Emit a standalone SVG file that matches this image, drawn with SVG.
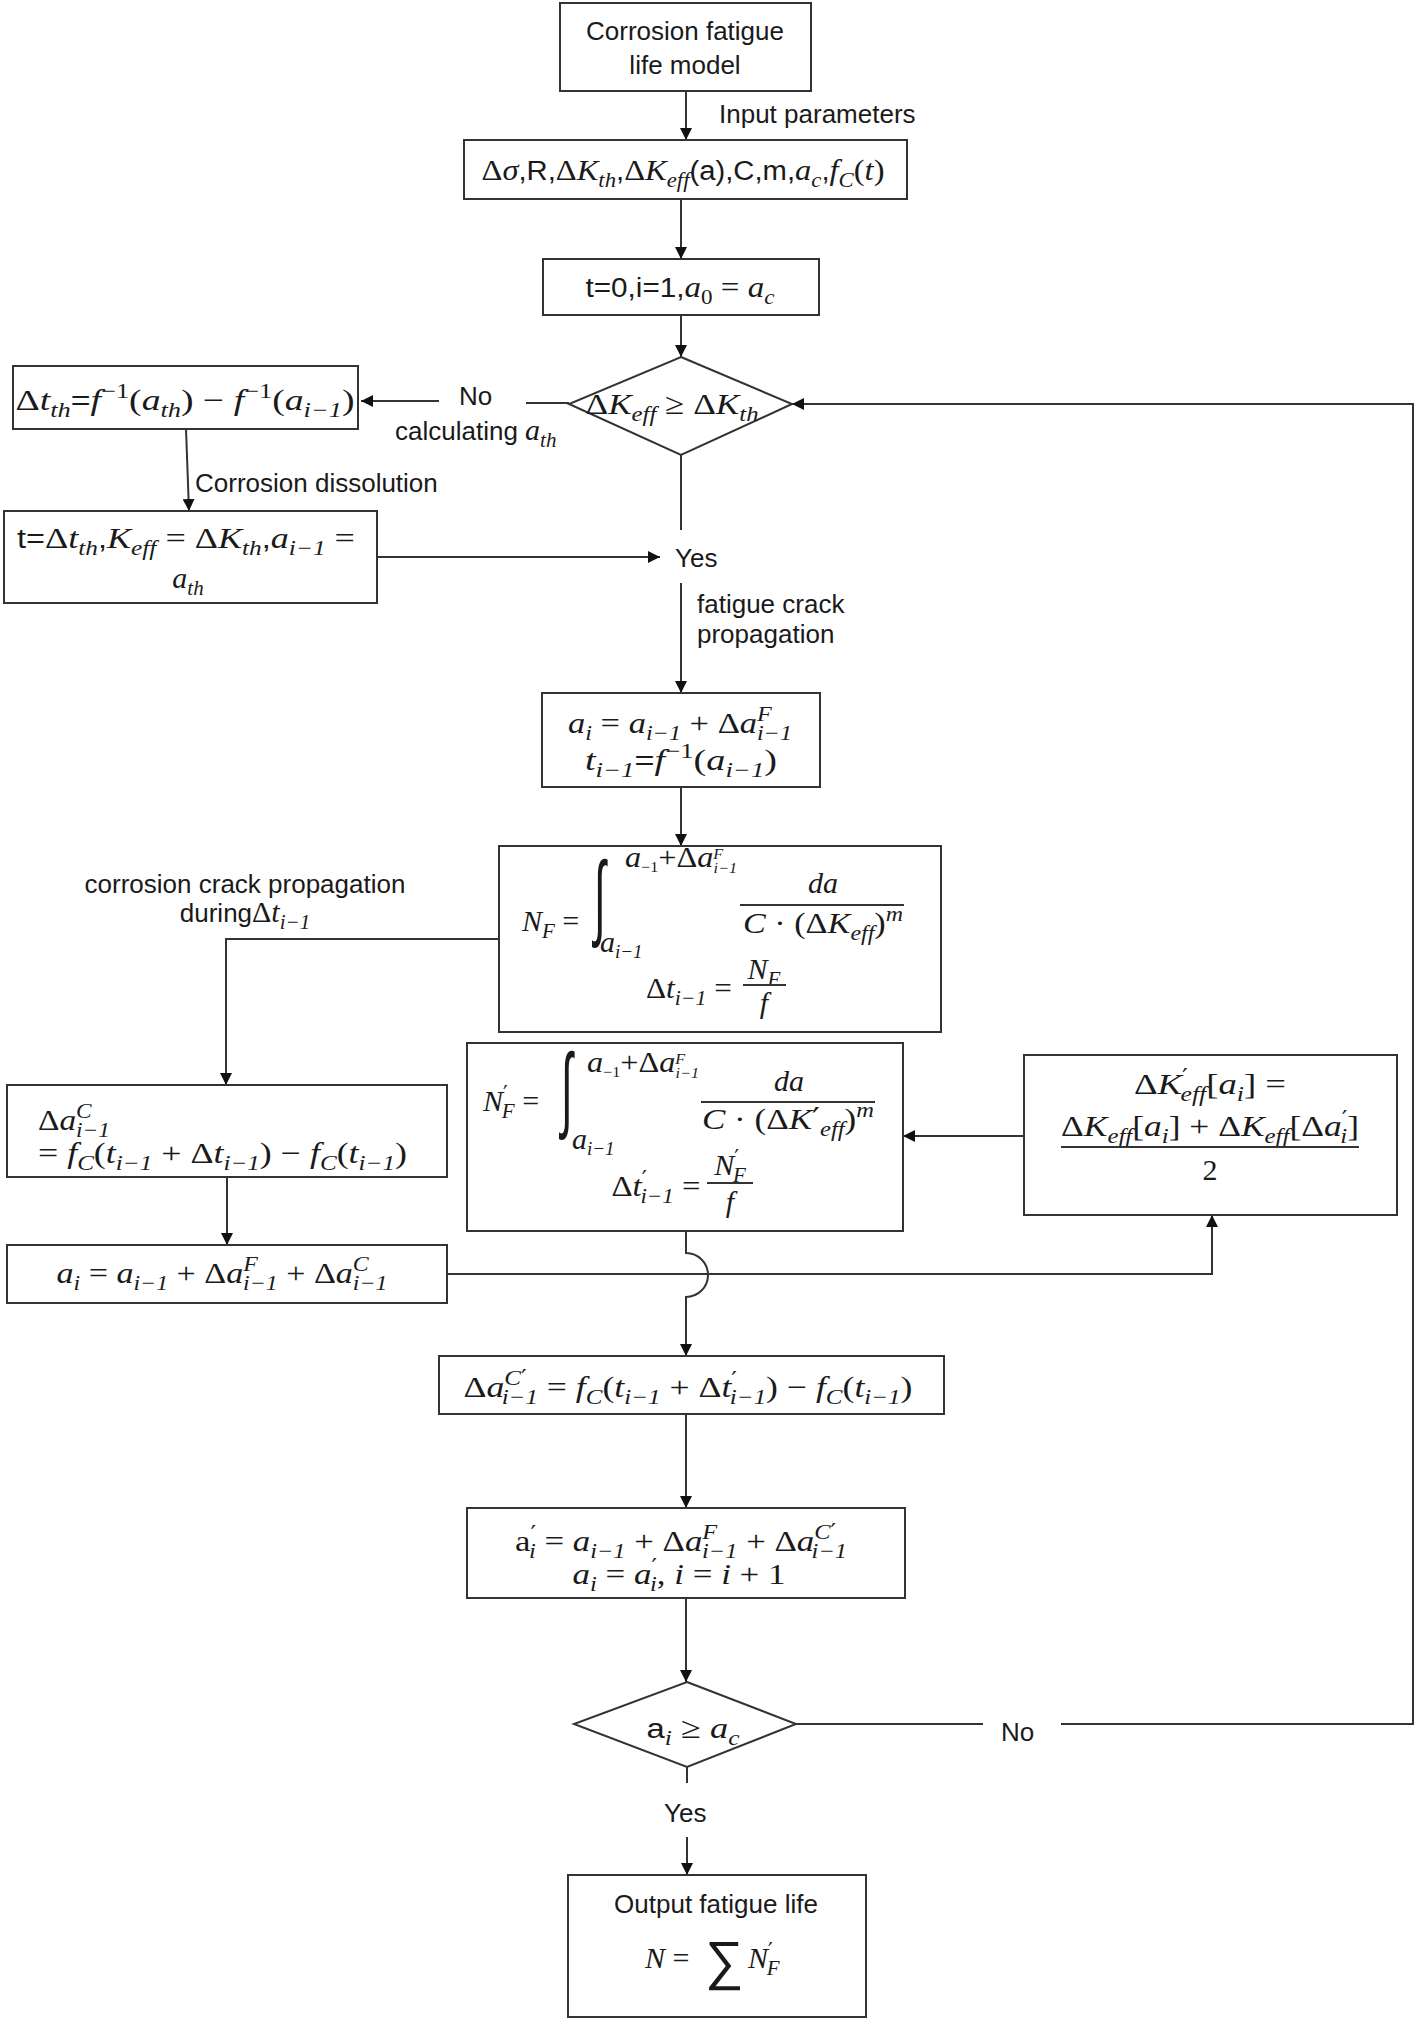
<svg xmlns="http://www.w3.org/2000/svg" width="1416" height="2021" viewBox="0 0 1416 2021">
<style>
.bx{fill:#fff;stroke:#333;stroke-width:2}
.ln{fill:none;stroke:#333;stroke-width:2}
.ar{fill:none;stroke:#333;stroke-width:2;marker-end:url(#ah)}
.s{font-family:"Liberation Sans",Arial,sans-serif;font-size:26px;fill:#1a1a1a}
.m{font-family:"Liberation Serif","Times New Roman",serif;font-size:30px;fill:#1a1a1a}
.i{font-style:italic}
.b{font-size:21px}
.ss{font-family:"Liberation Sans",Arial,sans-serif;font-size:27px}
.p{font-family:"DejaVu Sans",sans-serif;font-style:normal}
.big{font-family:"DejaVu Sans",sans-serif;font-weight:200;fill:#1a1a1a}
</style>
<defs>
<marker id="ah" viewBox="0 0 12 12" refX="12" refY="6" markerWidth="12" markerHeight="12" markerUnits="userSpaceOnUse" orient="auto"><path d="M0,0 L12,6 L0,12 z" fill="#111"/></marker>
</defs>
<rect width="1416" height="2021" fill="#fff"/>

<g id="connectors">
<line class="ar" x1="686" y1="91" x2="686" y2="140"/>
<line class="ar" x1="681" y1="199" x2="681" y2="259"/>
<line class="ar" x1="681" y1="315" x2="681" y2="357"/>
<line class="ln" x1="569" y1="403" x2="526" y2="403"/>
<line class="ar" x1="439" y1="401" x2="361" y2="401"/>
<line class="ar" x1="186" y1="429" x2="189" y2="511"/>
<line class="ar" x1="377" y1="557" x2="660" y2="557"/>
<line class="ln" x1="681" y1="455" x2="681" y2="530"/>
<line class="ar" x1="681" y1="583" x2="681" y2="693"/>
<line class="ar" x1="681" y1="787" x2="681" y2="846"/>
<polyline class="ar" points="499,939 226,939 226,1085"/>
<line class="ar" x1="227" y1="1177" x2="227" y2="1245"/>
<polyline class="ar" points="447,1274 1212,1274 1212,1215"/>
<line class="ar" x1="1024" y1="1136" x2="903" y2="1136"/>
<path class="ar" d="M686,1231 V1253 A22,22 0 0 1 686,1297 V1356"/>
<line class="ar" x1="686" y1="1414" x2="686" y2="1508"/>
<line class="ar" x1="686" y1="1598" x2="686" y2="1682"/>
<line class="ln" x1="796" y1="1724" x2="983" y2="1724"/>
<polyline class="ar" points="1061,1724 1413,1724 1413,404 792,404"/>
<line class="ln" x1="687" y1="1767" x2="687" y2="1783"/>
<line class="ar" x1="687" y1="1837" x2="687" y2="1875"/>
<text class="s" x="719" y="123">Input parameters</text>
<text class="s" x="459" y="405">No</text>
<text class="s" x="395" y="440">calculating <tspan class="m i">a</tspan><tspan class="m i b" dy="7">th</tspan></text>
<text class="s" x="195" y="492">Corrosion dissolution</text>
<text class="s" x="675" y="567">Yes</text>
<text class="s" x="697" y="613">fatigue crack</text>
<text class="s" x="697" y="643">propagation</text>
<text class="s" x="245" y="893" text-anchor="middle">corrosion crack propagation</text>
<text class="s" x="245" y="922" text-anchor="middle">during<tspan class="m">Δ</tspan><tspan class="m i">t</tspan><tspan class="m i b" dy="7">i−1</tspan></text>
<text class="s" x="1001" y="1741">No</text>
<text class="s" x="664" y="1822">Yes</text>
</g>

<g id="n1">
<rect class="bx" x="560" y="3" width="251" height="88"/>
<text class="s" x="685" y="40" text-anchor="middle">Corrosion fatigue</text>
<text class="s" x="685" y="74" text-anchor="middle">life model</text>
</g>

<g id="n2">
<rect class="bx" x="464" y="140" width="443" height="59"/>
<text class="m" x="683" y="180" text-anchor="middle" textLength="403" lengthAdjust="spacingAndGlyphs">Δ<tspan class="i">σ</tspan><tspan class="ss">,R,</tspan>Δ<tspan class="i">K</tspan><tspan class="i b" dy="7">th</tspan><tspan class="ss" dy="-7">,</tspan>Δ<tspan class="i">K</tspan><tspan class="i b" dy="7">eff</tspan><tspan class="ss" dy="-7">(a),C,m,</tspan><tspan class="i">a</tspan><tspan class="i b" dy="7">c</tspan><tspan class="ss" dy="-7">,</tspan><tspan class="i">f</tspan><tspan class="i b" dy="7">C</tspan><tspan dy="-7">(</tspan><tspan class="i">t</tspan>)</text>
</g>

<g id="n3">
<rect class="bx" x="543" y="259" width="276" height="56"/>
<text class="m" x="680" y="297" text-anchor="middle" textLength="189" lengthAdjust="spacingAndGlyphs"><tspan class="ss">t=0,i=1,</tspan><tspan class="i">a</tspan><tspan class="b" dy="7">0</tspan><tspan dy="-7"> = </tspan><tspan class="i">a</tspan><tspan class="i b" dy="7">c</tspan></text>
</g>

<g id="d1">
<polygon class="bx" points="681,357 792,404 681,455 569,404"/>
<text class="m" x="672" y="414" text-anchor="middle" textLength="173" lengthAdjust="spacingAndGlyphs">Δ<tspan class="i">K</tspan><tspan class="i b" dy="7">eff</tspan><tspan dy="-7"> ≥ Δ</tspan><tspan class="i">K</tspan><tspan class="i b" dy="7">th</tspan></text>
</g>

<g id="l1">
<rect class="bx" x="13" y="366" width="345" height="63"/>
<text class="m" x="185" y="410" text-anchor="middle" textLength="339" lengthAdjust="spacingAndGlyphs">Δ<tspan class="i">t</tspan><tspan class="i b" dy="7">th</tspan><tspan class="ss" dy="-7">=</tspan><tspan class="i">f</tspan><tspan class="b" dy="-12">−1</tspan><tspan dy="12">(</tspan><tspan class="i">a</tspan><tspan class="i b" dy="7">th</tspan><tspan dy="-7">) − </tspan><tspan class="i">f</tspan><tspan class="b" dy="-12">−1</tspan><tspan dy="12">(</tspan><tspan class="i">a</tspan><tspan class="i b" dy="7">i−1</tspan><tspan dy="-7">)</tspan></text>
</g>

<g id="l2">
<rect class="bx" x="4" y="511" width="373" height="92"/>
<text class="m" x="186" y="548" text-anchor="middle" textLength="338" lengthAdjust="spacingAndGlyphs"><tspan class="ss">t=</tspan>Δ<tspan class="i">t</tspan><tspan class="i b" dy="7">th</tspan><tspan class="ss" dy="-7">,</tspan><tspan class="i">K</tspan><tspan class="i b" dy="7">eff</tspan><tspan dy="-7"> = Δ</tspan><tspan class="i">K</tspan><tspan class="i b" dy="7">th</tspan><tspan class="ss" dy="-7">,</tspan><tspan class="i">a</tspan><tspan class="i b" dy="7">i−1</tspan><tspan dy="-7"> =</tspan></text>
<text class="m" x="188" y="588" text-anchor="middle"><tspan class="i">a</tspan><tspan class="i b" dy="7">th</tspan></text>
</g>

<g id="n4">
<rect class="bx" x="542" y="693" width="278" height="94"/>
<text class="m" x="680" y="733" text-anchor="middle" textLength="224" lengthAdjust="spacingAndGlyphs"><tspan class="i">a</tspan><tspan class="i b" dy="7">i</tspan><tspan dy="-7"> = </tspan><tspan class="i">a</tspan><tspan class="i b" dy="7">i−1</tspan><tspan dy="-7"> + Δ</tspan><tspan class="i">a</tspan><tspan class="i b" dy="-12">F</tspan><tspan class="i b" dx="-13" dy="19">i−1</tspan></text>
<text class="m" x="681" y="770" text-anchor="middle" textLength="192" lengthAdjust="spacingAndGlyphs"><tspan class="i">t</tspan><tspan class="i b" dy="7">i−1</tspan><tspan class="ss" dy="-7">=</tspan><tspan class="i">f</tspan><tspan class="b" dy="-12">−1</tspan><tspan dy="12">(</tspan><tspan class="i">a</tspan><tspan class="i b" dy="7">i−1</tspan><tspan dy="-7">)</tspan></text>
</g>

<g id="n5">
<rect class="bx" x="499" y="846" width="442" height="186"/>
<text class="m" x="522" y="931"><tspan class="i">N</tspan><tspan class="i b" dy="7">F</tspan><tspan dy="-7"> =</tspan></text>
<text class="big" font-size="94" transform="translate(594,928) scale(0.45,1)">∫</text>
<text class="m" x="625" y="867" font-size="21" textLength="112" lengthAdjust="spacingAndGlyphs"><tspan class="i">a</tspan><tspan dy="5" font-size="15">−1</tspan><tspan dy="-5">+Δ</tspan><tspan class="i">a</tspan><tspan class="i" font-size="15" dy="-8">F</tspan><tspan class="i" font-size="15" dx="-9" dy="14">i−1</tspan></text>
<text class="m" x="600" y="952" font-size="26"><tspan class="i">a</tspan><tspan class="i" font-size="19" dy="6">i−1</tspan></text>
<text class="m i" x="823" y="893" text-anchor="middle">da</text>
<line class="ln" x1="740" y1="905" x2="904" y2="905"/>
<text class="m" x="823" y="933" text-anchor="middle" textLength="160" lengthAdjust="spacingAndGlyphs"><tspan class="i">C</tspan> · (Δ<tspan class="i">K</tspan><tspan class="i b" dy="7">eff</tspan><tspan dy="-7">)</tspan><tspan class="i b" dy="-12">m</tspan></text>
<text class="m" x="689" y="998" text-anchor="middle" textLength="86" lengthAdjust="spacingAndGlyphs">Δ<tspan class="i">t</tspan><tspan class="i b" dy="7">i−1</tspan><tspan dy="-7"> =</tspan></text>
<text class="m" x="764" y="979" text-anchor="middle"><tspan class="i">N</tspan><tspan class="i b" dy="7">F</tspan></text>
<line class="ln" x1="743" y1="985" x2="786" y2="985"/>
<text class="m i" x="764" y="1013" text-anchor="middle">f</text>
</g>

<g id="n6">
<rect class="bx" x="467" y="1043" width="436" height="188"/>
<text class="m" x="483" y="1111"><tspan class="i">N</tspan><tspan class="p b" dy="-10">′</tspan><tspan class="i b" dx="-6" dy="17">F</tspan><tspan dy="-7"> =</tspan></text>
<text class="big" font-size="94" transform="translate(561,1120) scale(0.45,1)">∫</text>
<text class="m" x="587" y="1072" font-size="21" textLength="112" lengthAdjust="spacingAndGlyphs"><tspan class="i">a</tspan><tspan dy="5" font-size="15">−1</tspan><tspan dy="-5">+Δ</tspan><tspan class="i">a</tspan><tspan class="i" font-size="15" dy="-8">F</tspan><tspan class="i" font-size="15" dx="-9" dy="14">i−1</tspan></text>
<text class="m" x="572" y="1149" font-size="26"><tspan class="i">a</tspan><tspan class="i" font-size="19" dy="6">i−1</tspan></text>
<text class="m i" x="789" y="1091" text-anchor="middle">da</text>
<line class="ln" x1="701" y1="1102" x2="875" y2="1102"/>
<text class="m" x="788" y="1129" text-anchor="middle" textLength="172" lengthAdjust="spacingAndGlyphs"><tspan class="i">C</tspan> · (Δ<tspan class="i">K</tspan><tspan class="p">′</tspan><tspan class="i b" dy="7">eff</tspan><tspan dy="-7">)</tspan><tspan class="i b" dy="-12">m</tspan></text>
<text class="m" x="656" y="1196" text-anchor="middle" textLength="89" lengthAdjust="spacingAndGlyphs">Δ<tspan class="i">t</tspan><tspan class="p b" dy="-10">′</tspan><tspan class="i b" dx="-6" dy="17">i−1</tspan><tspan dy="-7"> =</tspan></text>
<text class="m" x="730" y="1175" text-anchor="middle"><tspan class="i">N</tspan><tspan class="p b" dy="-10">′</tspan><tspan class="i b" dx="-6" dy="17">F</tspan></text>
<line class="ln" x1="707" y1="1183" x2="753" y2="1183"/>
<text class="m i" x="730" y="1212" text-anchor="middle">f</text>
</g>

<g id="n7">
<rect class="bx" x="1024" y="1055" width="373" height="160"/>
<text class="m" x="1210" y="1094" text-anchor="middle" textLength="152" lengthAdjust="spacingAndGlyphs">Δ<tspan class="i">K</tspan><tspan class="p b" dy="-10">′</tspan><tspan class="i b" dx="-6" dy="17">eff</tspan><tspan dy="-7">[</tspan><tspan class="i">a</tspan><tspan class="i b" dy="7">i</tspan><tspan dy="-7">] =</tspan></text>
<text class="m" x="1210" y="1136" text-anchor="middle" textLength="298" lengthAdjust="spacingAndGlyphs">Δ<tspan class="i">K</tspan><tspan class="i b" dy="7">eff</tspan><tspan dy="-7">[</tspan><tspan class="i">a</tspan><tspan class="i b" dy="7">i</tspan><tspan dy="-7">] + Δ</tspan><tspan class="i">K</tspan><tspan class="i b" dy="7">eff</tspan><tspan dy="-7">[Δ</tspan><tspan class="i">a</tspan><tspan class="p b" dy="-10">′</tspan><tspan class="i b" dx="-6" dy="17">i</tspan><tspan dy="-7">]</tspan></text>
<line class="ln" x1="1061" y1="1147" x2="1359" y2="1147"/>
<text class="m" x="1210" y="1180" text-anchor="middle">2</text>
</g>

<g id="l3">
<rect class="bx" x="7" y="1085" width="440" height="92"/>
<text class="m" x="38" y="1130" textLength="72" lengthAdjust="spacingAndGlyphs">Δ<tspan class="i">a</tspan><tspan class="i b" dy="-12">C</tspan><tspan class="i b" dx="-14" dy="19">i−1</tspan></text>
<text class="m" x="38" y="1163" textLength="369" lengthAdjust="spacingAndGlyphs">= <tspan class="i">f</tspan><tspan class="i b" dy="7">C</tspan><tspan dy="-7">(</tspan><tspan class="i">t</tspan><tspan class="i b" dy="7">i−1</tspan><tspan dy="-7"> + Δ</tspan><tspan class="i">t</tspan><tspan class="i b" dy="7">i−1</tspan><tspan dy="-7">) − </tspan><tspan class="i">f</tspan><tspan class="i b" dy="7">C</tspan><tspan dy="-7">(</tspan><tspan class="i">t</tspan><tspan class="i b" dy="7">i−1</tspan><tspan dy="-7">)</tspan></text>
</g>

<g id="l4">
<rect class="bx" x="7" y="1245" width="440" height="58"/>
<text class="m" x="222" y="1283" text-anchor="middle" textLength="331" lengthAdjust="spacingAndGlyphs"><tspan class="i">a</tspan><tspan class="i b" dy="7">i</tspan><tspan dy="-7"> = </tspan><tspan class="i">a</tspan><tspan class="i b" dy="7">i−1</tspan><tspan dy="-7"> + Δ</tspan><tspan class="i">a</tspan><tspan class="i b" dy="-12">F</tspan><tspan class="i b" dx="-13" dy="19">i−1</tspan><tspan dy="-7"> + Δ</tspan><tspan class="i">a</tspan><tspan class="i b" dy="-12">C</tspan><tspan class="i b" dx="-14" dy="19">i−1</tspan></text>
</g>

<g id="n8">
<rect class="bx" x="439" y="1356" width="505" height="58"/>
<text class="m" x="688" y="1397" text-anchor="middle" textLength="449" lengthAdjust="spacingAndGlyphs">Δ<tspan class="i">a</tspan><tspan class="i b" dy="-12">C</tspan><tspan class="p b">′</tspan><tspan class="i b" dx="-21" dy="19">i−1</tspan><tspan dy="-7"> = </tspan><tspan class="i">f</tspan><tspan class="i b" dy="7">C</tspan><tspan dy="-7">(</tspan><tspan class="i">t</tspan><tspan class="i b" dy="7">i−1</tspan><tspan dy="-7"> + Δ</tspan><tspan class="i">t</tspan><tspan class="p b" dy="-10">′</tspan><tspan class="i b" dx="-6" dy="17">i−1</tspan><tspan dy="-7">) − </tspan><tspan class="i">f</tspan><tspan class="i b" dy="7">C</tspan><tspan dy="-7">(</tspan><tspan class="i">t</tspan><tspan class="i b" dy="7">i−1</tspan><tspan dy="-7">)</tspan></text>
</g>

<g id="n9">
<rect class="bx" x="467" y="1508" width="438" height="90"/>
<text class="m" x="681" y="1551" text-anchor="middle" textLength="332" lengthAdjust="spacingAndGlyphs">a<tspan class="p b" dy="-10">′</tspan><tspan class="i b" dx="-6" dy="17">i</tspan><tspan dy="-7"> = </tspan><tspan class="i">a</tspan><tspan class="i b" dy="7">i−1</tspan><tspan dy="-7"> + Δ</tspan><tspan class="i">a</tspan><tspan class="i b" dy="-12">F</tspan><tspan class="i b" dx="-13" dy="19">i−1</tspan><tspan dy="-7"> + Δ</tspan><tspan class="i">a</tspan><tspan class="i b" dy="-12">C</tspan><tspan class="p b">′</tspan><tspan class="i b" dx="-21" dy="19">i−1</tspan></text>
<text class="m" x="679" y="1584" text-anchor="middle" textLength="213" lengthAdjust="spacingAndGlyphs"><tspan class="i">a</tspan><tspan class="i b" dy="7">i</tspan><tspan dy="-7"> = </tspan><tspan class="i">a</tspan><tspan class="p b" dy="-10">′</tspan><tspan class="i b" dx="-6" dy="17">i</tspan><tspan dy="-7">, </tspan><tspan class="i">i</tspan> = <tspan class="i">i</tspan> + 1</text>
</g>

<g id="d2">
<polygon class="bx" points="687,1682 796,1724 687,1767 574,1724"/>
<text class="m" x="693" y="1738" text-anchor="middle" textLength="93" lengthAdjust="spacingAndGlyphs"><tspan class="ss">a</tspan><tspan class="i b" dy="7">i</tspan><tspan dy="-7"> ≥ </tspan><tspan class="i">a</tspan><tspan class="i b" dy="7">c</tspan></text>
</g>

<g id="n10">
<rect class="bx" x="568" y="1875" width="298" height="142"/>
<text class="s" x="716" y="1913" text-anchor="middle">Output fatigue life</text>
<text class="m" x="645" y="1968"><tspan class="i">N</tspan> =</text>
<text class="big" x="705" y="1979" font-size="54">∑</text>
<text class="m" x="748" y="1968"><tspan class="i">N</tspan><tspan class="p b" dy="-10">′</tspan><tspan class="i b" dx="-6" dy="17">F</tspan></text>
</g>
</svg>
